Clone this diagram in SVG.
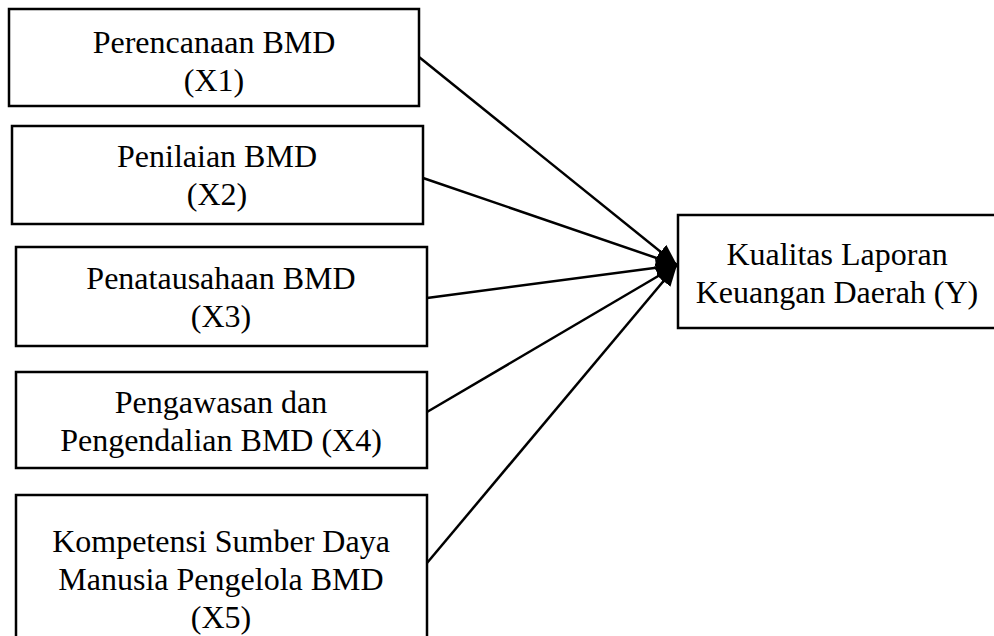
<svg xmlns="http://www.w3.org/2000/svg" width="994" height="636" viewBox="0 0 994 636">
  <style>
    .box { fill: #ffffff; stroke: #000000; stroke-width: 2.5; }
    .lbl { font-family: "Liberation Serif", "Times New Roman", serif; font-size: 32px; fill: #000000; text-anchor: middle; }
    .edge { stroke: #000000; stroke-width: 2.5; fill: none; marker-end: url(#arrow); }
  </style>
  <defs>
    <marker id="arrow" markerUnits="userSpaceOnUse" markerWidth="24" markerHeight="20" refX="21" refY="9" orient="auto">
      <path d="M0,0 L21,9 L0,18 z" fill="#000000"/>
    </marker>
  </defs>
  <rect x="0" y="0" width="994" height="636" fill="#ffffff"/>

  <g id="x1">
    <rect class="box" x="9" y="9" width="410" height="97"/>
    <text class="lbl" x="214" y="53">Perencanaan BMD</text>
    <text class="lbl" x="214" y="91">(X1)</text>
  </g>
  <g id="x2">
    <rect class="box" x="12" y="126" width="411" height="98"/>
    <text class="lbl" x="217" y="167">Penilaian BMD</text>
    <text class="lbl" x="217" y="205">(X2)</text>
  </g>
  <g id="x3">
    <rect class="box" x="16" y="247" width="411" height="99"/>
    <text class="lbl" x="221" y="289">Penatausahaan BMD</text>
    <text class="lbl" x="221" y="327">(X3)</text>
  </g>
  <g id="x4">
    <rect class="box" x="16" y="372" width="411" height="96"/>
    <text class="lbl" x="221" y="413">Pengawasan dan</text>
    <text class="lbl" x="221" y="451">Pengendalian BMD (X4)</text>
  </g>
  <g id="x5">
    <rect class="box" x="16" y="495" width="411" height="160"/>
    <text class="lbl" x="221" y="552">Kompetensi Sumber Daya</text>
    <text class="lbl" x="221" y="590">Manusia Pengelola BMD</text>
    <text class="lbl" x="221" y="628">(X5)</text>
  </g>
  <g id="y">
    <rect class="box" x="678" y="215" width="330" height="113"/>
    <text class="lbl" x="837" y="265">Kualitas Laporan</text>
    <text class="lbl" x="837" y="303">Keuangan Daerah (Y)</text>
  </g>

  <g id="connectors">
    <line class="edge" x1="419" y1="57" x2="677" y2="265"/>
    <line class="edge" x1="423" y1="178" x2="677" y2="265"/>
    <line class="edge" x1="427" y1="298" x2="677" y2="265"/>
    <line class="edge" x1="427" y1="412" x2="677" y2="265"/>
    <line class="edge" x1="427" y1="563" x2="677" y2="265"/>
  </g>
</svg>
